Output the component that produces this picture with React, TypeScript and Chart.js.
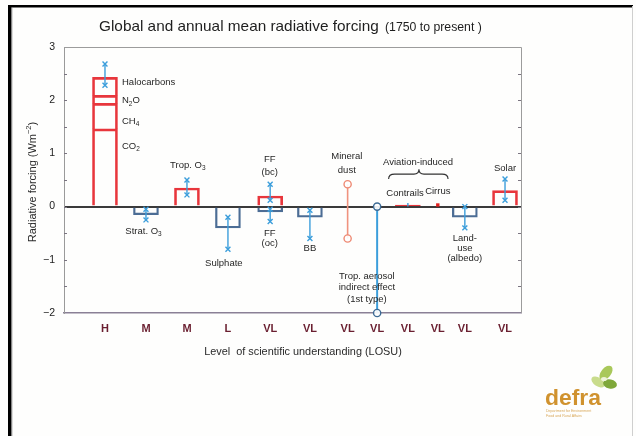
import React, { useEffect, useRef } from "react";
import { Chart, registerables } from "chart.js";

Chart.register(...registerables);

// ---------- DATA ----------
// Level of scientific understanding, one per column slot
const losuLabels = ["H", "M", "M", "L", "VL", "VL", "VL", "VL", "VL", "VL", "VL", "VL"];
// column slot positions along the (non-uniform) x axis
const slotX = [1.0, 2.0, 3.0, 4.0, 5.03, 6.0, 6.92, 7.64, 8.39, 9.12, 9.78, 10.76];

// forcing boxes (W m-2): from / to, column slot
const boxNames = ["CO2", "CH4", "N2O", "Halocarbons", "Strat. O3", "Trop. O3", "Sulphate", "FF (bc)", "FF (oc)", "BB", "Contrails", "Land-use (albedo)", "Solar"];
const boxSlot = [0, 0, 0, 0, 1, 2, 3, 4, 4, 5, 8, 10, 11];
const boxFrom = [0, 1.46, 1.94, 2.09, 0, 0, 0, 0, 0, 0, 0, 0, 0];
const boxTo = [1.46, 1.94, 2.09, 2.43, -0.15, 0.35, -0.4, 0.2, -0.1, -0.2, 0.03, -0.2, 0.3];
const boxKind = ["pos", "pos", "pos", "pos", "neg", "pos", "neg", "pos", "neg", "neg", "flat", "neg", "pos"];

// uncertainty ranges with "x" end markers
const errNames = ["Greenhouse gases", "Strat. O3", "Trop. O3", "Sulphate", "FF (bc)", "FF (oc)", "BB", "Contrails", "Land-use", "Solar"];
const errSlot = [0, 1, 2, 3, 4, 4, 5, 8, 10, 11];
const errLow = [2.28, -0.25, 0.22, -0.8, 0.12, -0.28, -0.6, 0.0, -0.4, 0.12];
const errHigh = [2.68, -0.05, 0.5, -0.2, 0.42, -0.05, -0.07, 0.07, 0.0, 0.52];
const errMarked = [true, true, true, true, true, true, true, false, true, true];

// ranges with no best estimate (circle ends)
const rangeNames = ["Mineral dust", "Trop. aerosol indirect effect (1st type)"];
const rangeSlot = [6, 7];
const rangeLow = [-0.6, -2.0];
const rangeHigh = [0.42, 0.0];

// aviation-induced cirrus
const cirrusSlot = 9;
const cirrusValue = 0.03;

const Y_MIN = -2;
const Y_MAX = 3;
const X_MIN = 0;
const X_MAX = 11.15;

// ---------- ANNOTATIONS (text, data coordinates) ----------
type Note = { t: string; x: number; y: number; a?: CanvasTextAlign };
const notes: Note[] = [
  { t: "Halocarbons", x: 1.415, y: 2.34, a: "left" },
  { t: "N_2O", x: 1.415, y: 1.99, a: "left" },
  { t: "CH_4", x: 1.415, y: 1.6, a: "left" },
  { t: "CO_2", x: 1.415, y: 1.14, a: "left" },
  { t: "Trop. O_3", x: 3.02, y: 0.78 },
  { t: "Strat. O_3", x: 1.94, y: -0.47 },
  { t: "Sulphate", x: 3.9, y: -1.07 },
  { t: "FF", x: 5.02, y: 0.895 },
  { t: "(bc)", x: 5.02, y: 0.645 },
  { t: "FF", x: 5.02, y: -0.5 },
  { t: "(oc)", x: 5.02, y: -0.7 },
  { t: "BB", x: 6.0, y: -0.78 },
  { t: "Mineral", x: 6.9, y: 0.94 },
  { t: "dust", x: 6.9, y: 0.69 },
  { t: "Trop. aerosol", x: 7.39, y: -1.32 },
  { t: "indirect effect", x: 7.39, y: -1.52 },
  { t: "(1st type)", x: 7.39, y: -1.74 },
  { t: "Aviation-induced", x: 8.64, y: 0.825 },
  { t: "Contrails", x: 8.32, y: 0.25 },
  { t: "Cirrus", x: 9.12, y: 0.28 },
  { t: "Land-", x: 9.78, y: -0.6 },
  { t: "use", x: 9.78, y: -0.78 },
  { t: "(albedo)", x: 9.78, y: -0.97 },
  { t: "Solar", x: 10.76, y: 0.72 },
];

const FONT = "'Liberation Sans', Arial, Helvetica, sans-serif";

function drawRich(ctx: CanvasRenderingContext2D, text: string, x: number, y: number, size: number, align: CanvasTextAlign = "center") {
  // "_x" => subscript char, "^xx^" => superscript
  const parts: { s: string; k: number }[] = [];
  const re = /_(.)|\^([^^]+)\^/g;
  let last = 0;
  let m: RegExpExecArray | null;
  while ((m = re.exec(text))) {
    if (m.index > last) parts.push({ s: text.slice(last, m.index), k: 0 });
    if (m[1]) parts.push({ s: m[1], k: 1 });
    else parts.push({ s: m[2], k: 2 });
    last = re.lastIndex;
  }
  if (last < text.length) parts.push({ s: text.slice(last), k: 0 });
  const small = size * 0.68;
  let total = 0;
  const widths = parts.map((p) => {
    ctx.font = `${p.k ? small : size}px ${FONT}`;
    const w = ctx.measureText(p.s).width;
    total += w;
    return w;
  });
  let cx = align === "left" ? x : align === "right" ? x - total : x - total / 2;
  ctx.textAlign = "left";
  ctx.textBaseline = "middle";
  parts.forEach((p, i) => {
    ctx.font = `${p.k ? small : size}px ${FONT}`;
    const dy = p.k === 1 ? size * 0.32 : p.k === 2 ? -size * 0.35 : 0;
    ctx.fillText(p.s, cx, y + dy);
    cx += widths[i];
  });
}

function fitText(ctx: CanvasRenderingContext2D, text: string, width: number, weight = "") {
  ctx.font = `${weight} 20px ${FONT}`;
  const w = ctx.measureText(text).width;
  return (20 * width) / w;
}

const decor = {
  id: "decor",
  beforeDraw(chart: any) {
    const ctx = chart.ctx as CanvasRenderingContext2D;
    ctx.save();
    ctx.fillStyle = "#fefefd";
    ctx.fillRect(0, 0, chart.width, chart.height);
    ctx.restore();
  },
  afterDraw(chart: any) {
    const ctx = chart.ctx as CanvasRenderingContext2D;
    const a = chart.chartArea;
    const xs = chart.scales.x;
    const ys = chart.scales.y;
    const px = (v: number) => xs.getPixelForValue(v);
    const py = (v: number) => ys.getPixelForValue(v);
    ctx.save();

    // plot frame top / right
    ctx.strokeStyle = "#9c9c9c";
    ctx.lineWidth = 1;
    ctx.beginPath();
    ctx.moveTo(a.left, a.top + 0.5);
    ctx.lineTo(a.right + 0.5, a.top + 0.5);
    ctx.lineTo(a.right + 0.5, a.bottom);
    ctx.stroke();

    // inward minor ticks every 0.5
    ctx.strokeStyle = "#7a7480";
    for (let v = Y_MIN + 0.5; v < Y_MAX; v += 0.5) {
      const y = Math.round(py(v)) + 0.5;
      ctx.beginPath();
      ctx.moveTo(a.left, y);
      ctx.lineTo(a.left + 3, y);
      ctx.moveTo(a.right - 3, y);
      ctx.lineTo(a.right, y);
      ctx.stroke();
    }

    // main title
    ctx.fillStyle = "#1e1e1e";
    ctx.textBaseline = "middle";
    ctx.textAlign = "left";
    const t1 = "Global and annual mean radiative forcing";
    const s1 = fitText(ctx, t1, 280);
    ctx.font = `${s1}px ${FONT}`;
    ctx.fillText(t1, 99, 27);
    const t2 = "(1750 to present )";
    const s2 = fitText(ctx, t2, 97);
    ctx.font = `${s2}px ${FONT}`;
    ctx.fillText(t2, 385, 28);

    // y-axis title
    ctx.save();
    ctx.translate(33, (a.top + a.bottom) / 2 + 2);
    ctx.rotate(-Math.PI / 2);
    ctx.fillStyle = "#2a2a2a";
    drawRich(ctx, "Radiative forcing (Wm^\u22122^)", 0, 0, 11, "center");
    ctx.restore();

    // x-axis title
    ctx.fillStyle = "#2a2a2a";
    const xt = "Level  of scientific understanding (LOSU)";
    const sx = fitText(ctx, xt, 198);
    ctx.font = `${sx}px ${FONT}`;
    ctx.textAlign = "center";
    ctx.fillText(xt, 303, 352);

    // annotations
    ctx.fillStyle = "#262626";
    notes.forEach((n) => drawRich(ctx, n.t, px(n.x), py(n.y), 9.5, n.a || "center"));

    // aviation brace
    ctx.strokeStyle = "#333";
    ctx.lineWidth = 1.1;
    const bl = px(7.92), br = px(9.37), bc = px(8.66);
    const yb = py(0.52), ym = py(0.61), yt = py(0.7);
    ctx.beginPath();
    ctx.moveTo(bl, yb);
    ctx.quadraticCurveTo(bl, ym, bl + 6, ym);
    ctx.lineTo(bc - 5, ym);
    ctx.quadraticCurveTo(bc, ym, bc, yt);
    ctx.quadraticCurveTo(bc, ym, bc + 5, ym);
    ctx.lineTo(br - 6, ym);
    ctx.quadraticCurveTo(br, ym, br, yb);
    ctx.stroke();

    // slide frame
    ctx.fillStyle = "#000";
    ctx.fillRect(8, 5, 625, 2.5);
    ctx.fillRect(8, 5, 3.5, 431);
    ctx.fillStyle = "#8a8a8a";
    ctx.fillRect(11.5, 7.5, 0.8, 429);
    ctx.strokeStyle = "#cfcfcf";
    ctx.lineWidth = 1;
    ctx.beginPath();
    ctx.moveTo(632.5, 6);
    ctx.lineTo(632.5, 436);
    ctx.stroke();

    // defra logo
    const leaf = (cx: number, cy: number, rx: number, ry: number, rot: number, col: string) => {
      ctx.beginPath();
      ctx.ellipse(cx, cy, rx, ry, rot, 0, Math.PI * 2);
      ctx.fillStyle = col;
      ctx.fill();
    };
    leaf(606, 373, 8.5, 5, -0.9, "#a9c85a");
    leaf(598, 382, 7.5, 4.2, 0.6, "#c9dc8c");
    leaf(610, 384, 7, 4.5, 0.2, "#7fa83a");
    leaf(604, 379, 3, 2, 0, "#eef3d8");
    ctx.fillStyle = "#d0922e";
    const dl = "defra";
    const sd = fitText(ctx, dl, 56, "bold");
    ctx.font = `bold ${sd}px ${FONT}`;
    ctx.textAlign = "left";
    ctx.textBaseline = "alphabetic";
    ctx.fillText(dl, 545, 405);
    ctx.font = `3.6px ${FONT}`;
    ctx.fillStyle = "#d9a85a";
    ctx.fillText("Department for Environment", 546, 412);
    ctx.fillText("Food and Rural Affairs", 546, 416.5);

    ctx.restore();
  },
};

export default function App() {
  const ref = useRef<HTMLCanvasElement | null>(null);
  useEffect(() => {
    const canvas = ref.current;
    if (!canvas) return;
    const redC = "#e8363c";
    const negC = "#4c6d95";
    const errC = "#3c9edb";

    const datasets: any[] = [];
    datasets.push({
      type: "bar",
      label: "Radiative forcing",
      data: boxNames.map((_, i) => ({ x: slotX[boxSlot[i]], y: [boxFrom[i], boxTo[i]] })),
      backgroundColor: boxKind.map((k) => (k === "flat" ? redC : "rgba(0,0,0,0)")),
      borderColor: boxKind.map((k) => (k === "neg" ? negC : redC)),
      borderWidth: boxKind.map((k) => (k === "neg" ? 1.6 : 2)),
      borderSkipped: "start",
      barThickness: 25,
      grouped: false,
      order: 3,
    });
    errSlot.forEach((s, i) =>
      datasets.push({
        type: "line",
        label: errNames[i],
        data: [
          { x: slotX[s], y: errLow[i] },
          { x: slotX[s], y: errHigh[i] },
        ],
        borderColor: errC,
        borderWidth: 1.4,
        pointStyle: "crossRot",
        pointRadius: errMarked[i] ? 3.5 : 0,
        pointBorderColor: errC,
        pointBorderWidth: 1.4,
        pointBackgroundColor: errC,
        clip: false,
        order: 1,
      })
    );
    const rangeLine = ["#f0937e", "#3c9edb"];
    const rangePt = ["#ee8a74", "#3d6b95"];
    rangeSlot.forEach((s, i) =>
      datasets.push({
        type: "line",
        label: rangeNames[i],
        data: [
          { x: slotX[s], y: rangeLow[i] },
          { x: slotX[s], y: rangeHigh[i] },
        ],
        borderColor: rangeLine[i],
        borderWidth: i === 1 ? 2 : 1.6,
        pointStyle: "circle",
        pointRadius: 3.6,
        pointBorderColor: rangePt[i],
        pointBorderWidth: 1.4,
        pointBackgroundColor: "rgba(255,255,255,0.9)",
        clip: false,
        order: 1,
      })
    );
    datasets.push({
      type: "line",
      label: "Cirrus",
      data: [{ x: slotX[cirrusSlot], y: cirrusValue }],
      showLine: false,
      pointStyle: "rect",
      pointRadius: 2.4,
      pointBackgroundColor: "#e0201e",
      pointBorderColor: "#e0201e",
      pointBorderWidth: 0,
      clip: false,
      order: 1,
    });

    const chart = new Chart(canvas, {
      type: "bar",
      data: { datasets },
      options: {
        animation: false,
        responsive: false,
        devicePixelRatio: 1,
        layout: { padding: { top: 47, right: 115, left: 0, bottom: 0 } },
        plugins: { legend: { display: false }, tooltip: { enabled: false }, title: { display: false } },
        scales: {
          x: {
            type: "linear",
            min: X_MIN,
            max: X_MAX,
            offset: false,
            afterBuildTicks: (scale: any) => {
              scale.ticks = slotX.map((v) => ({ value: v }));
            },
            afterFit: (scale: any) => {
              scale.height = 123;
            },
            ticks: {
              autoSkip: false,
              maxRotation: 0,
              padding: 9,
              color: "#6a1f30",
              font: { family: FONT, size: 11, weight: "bold" },
              callback: (_v: any, i: number) => losuLabels[i],
            },
            grid: { display: false, drawTicks: false, offset: false },
            border: { display: true, color: "#8a8096", width: 1.6 },
          },
          y: {
            type: "linear",
            min: Y_MIN,
            max: Y_MAX,
            afterFit: (scale: any) => {
              scale.width = 64;
            },
            ticks: {
              stepSize: 1,
              padding: 9,
              color: "#222",
              font: { family: FONT, size: 10.5 },
              callback: (v: any) => (Number(v) < 0 ? "\u2212" + Math.abs(Number(v)) : String(v)),
            },
            grid: {
              drawTicks: false,
              color: (c: any) => (c.tick && c.tick.value === 0 ? "#3a3a3a" : "rgba(0,0,0,0)"),
              lineWidth: (c: any) => (c.tick && c.tick.value === 0 ? 2 : 1),
            },
            border: { display: true, color: "#9a9a9a", width: 1 },
          },
        },
      },
      plugins: [decor],
    } as any);
    return () => chart.destroy();
  }, []);

  return (
    <div style={{ position: "absolute", left: 0, top: 0, width: 636, height: 436, background: "#fefefd" }}>
      <canvas ref={ref} width={636} height={436} style={{ display: "block", width: 636, height: 436 }} />
    </div>
  );
}
